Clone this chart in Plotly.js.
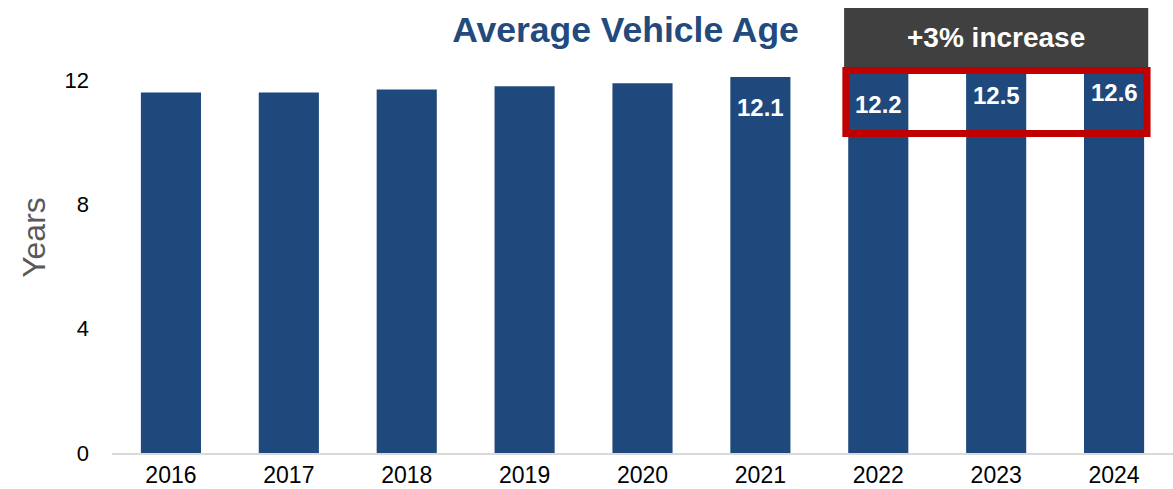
<!DOCTYPE html>
<html>
<head>
<meta charset="utf-8">
<script src="https://cdn.plot.ly/plotly-3.0.1.min.js"></script>
<style>html,body{margin:0;padding:0;background:#fff;}#chart{width:1173px;height:489px;}</style>
</head>
<body>
<div id="chart"></div>
<script>
const years = ['2016','2017','2018','2019','2020','2021','2022','2023','2024'];
const avgAge = [11.6, 11.6, 11.7, 11.8, 11.9, 12.1, 12.2, 12.5, 12.6];
const labels = ['', '', '', '', '', '12.1', '12.2', '12.5', '12.6'];
const yTicks = [0, 4, 8, 12];
const calloutText = '+3% increase';
const yTitle = 'Years';

const barColor = '#1F497C';
const font = 'Liberation Sans, Arial, sans-serif';
const xIdx = years.map((_, i) => i);

const annotations = [];
years.forEach((yr, i) => {
  if (labels[i]) {
    annotations.push({
      x: xIdx[i], y: avgAge[i], xref: 'x', yref: 'y',
      text: '<b>' + labels[i] + '</b>', showarrow: false,
      yanchor: 'middle', yshift: -31,
      font: {family: font, size: 24, color: '#ffffff'}
    });
  }
});
annotations.push({
  x: 6.995, y: 1.0065, xref: 'x', yref: 'paper',
  text: '<b>' + calloutText + '</b>', showarrow: false,
  xanchor: 'center', yanchor: 'middle',
  font: {family: font, size: 28, color: '#ffffff'}
});
annotations.push({
  x: -0.0735, y: 0.521, xref: 'paper', yref: 'paper',
  text: yTitle, showarrow: false, textangle: -90,
  xanchor: 'center', yanchor: 'middle',
  font: {family: font, size: 32, color: '#595959'}
});

const data = [{
  type: 'bar', x: xIdx, y: avgAge,
  marker: {color: barColor},
  hoverinfo: 'y'
}];

const layout = {
  width: 1173, height: 489,
  margin: {l: 112, r: 0, t: 40, b: 36},
  paper_bgcolor: '#ffffff', plot_bgcolor: '#ffffff',
  bargap: 0.49,
  showlegend: false,
  title: {
    text: '<b>Average Vehicle Age</b>',
    x: 0.484, xref: 'paper', y: 0.94, yref: 'container',
    xanchor: 'center', yanchor: 'middle',
    font: {family: font, size: 35.5, color: '#234A7D'}
  },
  xaxis: {
    type: 'linear', range: [-0.5, 8.5],
    tickvals: xIdx, ticktext: years,
    showline: true, linecolor: '#D9D9D9', linewidth: 2,
    showgrid: false, ticks: '', zeroline: false,
    tickfont: {family: font, size: 23, color: '#000000'}
  },
  yaxis: {
    range: [0, 13.29],
    tickvals: yTicks, ticktext: yTicks.map(String),
    showgrid: false, zeroline: false, showline: false, ticks: '',
    ticklabelstandoff: 22,
    tickfont: {family: font, size: 22, color: '#000000'}
  },
  shapes: [
    {type: 'rect', xref: 'x', yref: 'paper', x0: 5.71, x1: 8.29, y0: 0.9346, y1: 1.0775,
     fillcolor: '#404040', line: {width: 0}, layer: 'above'},
    {type: 'rect', xref: 'x', yref: 'y', x0: 5.725, x1: 8.28, y0: 10.28, y1: 12.31,
     fillcolor: 'rgba(0,0,0,0)', line: {color: '#C00000', width: 7}, layer: 'above'}
  ],
  annotations: annotations
};

Plotly.newPlot('chart', data, layout, {displayModeBar: false, staticPlot: true});
</script>
</body>
</html>
